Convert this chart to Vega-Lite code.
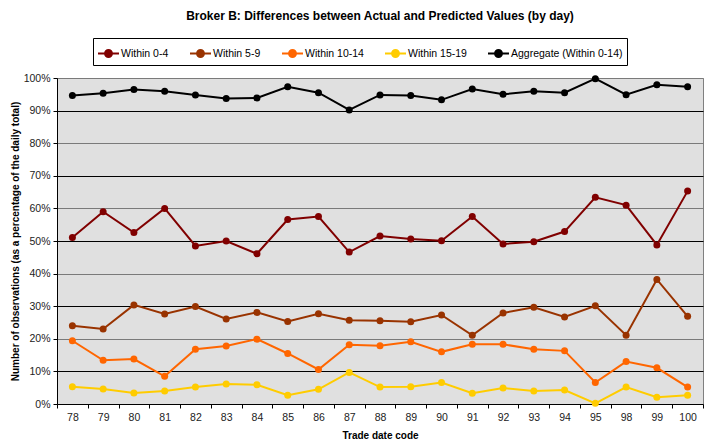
{
  "$schema": "https://vega.github.io/schema/vega-lite/v6.json",
  "width": 646,
  "height": 326,
  "autosize": "none",
  "padding": {"left": 57, "top": 78, "right": 4, "bottom": 38},
  "background": "white",
  "title": {
    "text": "Broker B: Differences between Actual and Predicted Values (by day)",
    "font": "Liberation Sans",
    "fontSize": 12,
    "fontWeight": "bold",
    "color": "black",
    "anchor": "middle",
    "frame": "group",
    "offset": 15
  },
  "config": {
    "view": {"fill": "#e0e0e0", "stroke": "#808080", "strokeWidth": 1},
    "axis": {
      "labelFont": "Liberation Sans",
      "titleFont": "Liberation Sans",
      "labelFontSize": 10.5,
      "titleFontSize": 10,
      "titleFontWeight": "bold",
      "labelColor": "#222222",
      "titleColor": "black",
      "domainColor": "black",
      "tickColor": "black"
    }
  },
  "datasets": {
    "rows": [
      {"day": 78, "series": "Within 0-4", "value": 0.511},
      {"day": 79, "series": "Within 0-4", "value": 0.590},
      {"day": 80, "series": "Within 0-4", "value": 0.526},
      {"day": 81, "series": "Within 0-4", "value": 0.600},
      {"day": 82, "series": "Within 0-4", "value": 0.485},
      {"day": 83, "series": "Within 0-4", "value": 0.500},
      {"day": 84, "series": "Within 0-4", "value": 0.461},
      {"day": 85, "series": "Within 0-4", "value": 0.566},
      {"day": 86, "series": "Within 0-4", "value": 0.575},
      {"day": 87, "series": "Within 0-4", "value": 0.466},
      {"day": 88, "series": "Within 0-4", "value": 0.515},
      {"day": 89, "series": "Within 0-4", "value": 0.506},
      {"day": 90, "series": "Within 0-4", "value": 0.501},
      {"day": 91, "series": "Within 0-4", "value": 0.575},
      {"day": 92, "series": "Within 0-4", "value": 0.491},
      {"day": 93, "series": "Within 0-4", "value": 0.498},
      {"day": 94, "series": "Within 0-4", "value": 0.529},
      {"day": 95, "series": "Within 0-4", "value": 0.634},
      {"day": 98, "series": "Within 0-4", "value": 0.610},
      {"day": 99, "series": "Within 0-4", "value": 0.488},
      {"day": 100, "series": "Within 0-4", "value": 0.653},
      {"day": 78, "series": "Within 5-9", "value": 0.240},
      {"day": 79, "series": "Within 5-9", "value": 0.230},
      {"day": 80, "series": "Within 5-9", "value": 0.304},
      {"day": 81, "series": "Within 5-9", "value": 0.276},
      {"day": 82, "series": "Within 5-9", "value": 0.299},
      {"day": 83, "series": "Within 5-9", "value": 0.261},
      {"day": 84, "series": "Within 5-9", "value": 0.281},
      {"day": 85, "series": "Within 5-9", "value": 0.253},
      {"day": 86, "series": "Within 5-9", "value": 0.277},
      {"day": 87, "series": "Within 5-9", "value": 0.257},
      {"day": 88, "series": "Within 5-9", "value": 0.255},
      {"day": 89, "series": "Within 5-9", "value": 0.252},
      {"day": 90, "series": "Within 5-9", "value": 0.273},
      {"day": 91, "series": "Within 5-9", "value": 0.211},
      {"day": 92, "series": "Within 5-9", "value": 0.279},
      {"day": 93, "series": "Within 5-9", "value": 0.297},
      {"day": 94, "series": "Within 5-9", "value": 0.267},
      {"day": 95, "series": "Within 5-9", "value": 0.301},
      {"day": 98, "series": "Within 5-9", "value": 0.211},
      {"day": 99, "series": "Within 5-9", "value": 0.382},
      {"day": 100, "series": "Within 5-9", "value": 0.269},
      {"day": 78, "series": "Within 10-14", "value": 0.194},
      {"day": 79, "series": "Within 10-14", "value": 0.134},
      {"day": 80, "series": "Within 10-14", "value": 0.138},
      {"day": 81, "series": "Within 10-14", "value": 0.085},
      {"day": 82, "series": "Within 10-14", "value": 0.168},
      {"day": 83, "series": "Within 10-14", "value": 0.178},
      {"day": 84, "series": "Within 10-14", "value": 0.199},
      {"day": 85, "series": "Within 10-14", "value": 0.155},
      {"day": 86, "series": "Within 10-14", "value": 0.106},
      {"day": 87, "series": "Within 10-14", "value": 0.182},
      {"day": 88, "series": "Within 10-14", "value": 0.179},
      {"day": 89, "series": "Within 10-14", "value": 0.191},
      {"day": 90, "series": "Within 10-14", "value": 0.160},
      {"day": 91, "series": "Within 10-14", "value": 0.183},
      {"day": 92, "series": "Within 10-14", "value": 0.183},
      {"day": 93, "series": "Within 10-14", "value": 0.168},
      {"day": 94, "series": "Within 10-14", "value": 0.163},
      {"day": 95, "series": "Within 10-14", "value": 0.066},
      {"day": 98, "series": "Within 10-14", "value": 0.130},
      {"day": 99, "series": "Within 10-14", "value": 0.111},
      {"day": 100, "series": "Within 10-14", "value": 0.052},
      {"day": 78, "series": "Within 15-19", "value": 0.053},
      {"day": 79, "series": "Within 15-19", "value": 0.046},
      {"day": 80, "series": "Within 15-19", "value": 0.034},
      {"day": 81, "series": "Within 15-19", "value": 0.040},
      {"day": 82, "series": "Within 15-19", "value": 0.052},
      {"day": 83, "series": "Within 15-19", "value": 0.061},
      {"day": 84, "series": "Within 15-19", "value": 0.059},
      {"day": 85, "series": "Within 15-19", "value": 0.027},
      {"day": 86, "series": "Within 15-19", "value": 0.045},
      {"day": 87, "series": "Within 15-19", "value": 0.097},
      {"day": 88, "series": "Within 15-19", "value": 0.052},
      {"day": 89, "series": "Within 15-19", "value": 0.053},
      {"day": 90, "series": "Within 15-19", "value": 0.066},
      {"day": 91, "series": "Within 15-19", "value": 0.033},
      {"day": 92, "series": "Within 15-19", "value": 0.049},
      {"day": 93, "series": "Within 15-19", "value": 0.040},
      {"day": 94, "series": "Within 15-19", "value": 0.043},
      {"day": 95, "series": "Within 15-19", "value": 0.002},
      {"day": 98, "series": "Within 15-19", "value": 0.052},
      {"day": 99, "series": "Within 15-19", "value": 0.021},
      {"day": 100, "series": "Within 15-19", "value": 0.027},
      {"day": 78, "series": "Aggregate (Within 0-14)", "value": 0.946},
      {"day": 79, "series": "Aggregate (Within 0-14)", "value": 0.953},
      {"day": 80, "series": "Aggregate (Within 0-14)", "value": 0.965},
      {"day": 81, "series": "Aggregate (Within 0-14)", "value": 0.959},
      {"day": 82, "series": "Aggregate (Within 0-14)", "value": 0.948},
      {"day": 83, "series": "Aggregate (Within 0-14)", "value": 0.937},
      {"day": 84, "series": "Aggregate (Within 0-14)", "value": 0.939},
      {"day": 85, "series": "Aggregate (Within 0-14)", "value": 0.973},
      {"day": 86, "series": "Aggregate (Within 0-14)", "value": 0.955},
      {"day": 87, "series": "Aggregate (Within 0-14)", "value": 0.902},
      {"day": 88, "series": "Aggregate (Within 0-14)", "value": 0.948},
      {"day": 89, "series": "Aggregate (Within 0-14)", "value": 0.946},
      {"day": 90, "series": "Aggregate (Within 0-14)", "value": 0.933},
      {"day": 91, "series": "Aggregate (Within 0-14)", "value": 0.966},
      {"day": 92, "series": "Aggregate (Within 0-14)", "value": 0.950},
      {"day": 93, "series": "Aggregate (Within 0-14)", "value": 0.959},
      {"day": 94, "series": "Aggregate (Within 0-14)", "value": 0.955},
      {"day": 95, "series": "Aggregate (Within 0-14)", "value": 0.998},
      {"day": 98, "series": "Aggregate (Within 0-14)", "value": 0.949},
      {"day": 99, "series": "Aggregate (Within 0-14)", "value": 0.979},
      {"day": 100, "series": "Aggregate (Within 0-14)", "value": 0.973}
    ]
  },
  "data": {"name": "rows"},
  "mark": {"type": "line", "strokeWidth": 2, "point": {"filled": true, "size": 49}},
  "encoding": {
    "x": {
      "field": "day",
      "type": "ordinal",
      "title": "Trade date code",
      "scale": {"paddingInner": 0, "paddingOuter": 0},
      "axis": {
        "labelAngle": 0,
        "tickBand": "extent",
        "tickSize": 4,
        "labelPadding": 4,
        "titlePadding": 8,
        "grid": false
      }
    },
    "y": {
      "field": "value",
      "type": "quantitative",
      "title": "Number of observations (as a percentage of the daily total)",
      "scale": {"domain": [0, 1], "nice": false},
      "axis": {
        "format": ".0%",
        "values": [0, 0.1, 0.2, 0.3, 0.4, 0.5, 0.6, 0.7, 0.8, 0.9, 1],
        "tickSize": 4,
        "labelPadding": 3,
        "titlePadding": 3,
        "grid": true,
        "gridOpacity": 1,
        "gridWidth": 1.2,
        "gridColor": {
          "condition": {"test": "round(datum.value * 10) % 2 == 1", "value": "#000000"},
          "value": "#7a7a7a"
        }
      }
    },
    "color": {
      "field": "series",
      "type": "nominal",
      "scale": {
        "domain": ["Within 0-4", "Within 5-9", "Within 10-14", "Within 15-19", "Aggregate (Within 0-14)"],
        "range": ["#800000", "#993300", "#ff6600", "#ffcc00", "#000000"]
      },
      "legend": {
        "title": null,
        "orient": "none",
        "legendX": 36,
        "legendY": -40,
        "direction": "horizontal",
        "columns": 5,
        "columnPadding": 17,
        "padding": 4,
        "strokeColor": "black",
        "fillColor": "white",
        "labelFont": "Liberation Sans",
        "labelFontSize": 10.5,
        "labelColor": "black",
        "labelOffset": 1,
        "symbolType": "M -1 0 L 1 0 M 0.33 0 A 0.33 0.33 0 1 1 -0.33 0 A 0.33 0.33 0 1 1 0.33 0",
        "symbolSize": 441,
        "symbolStrokeWidth": 2,
        "encode": {
          "symbols": {"update": {"fill": {"scale": "color", "field": "value"}}}
        }
      }
    }
  }
}
